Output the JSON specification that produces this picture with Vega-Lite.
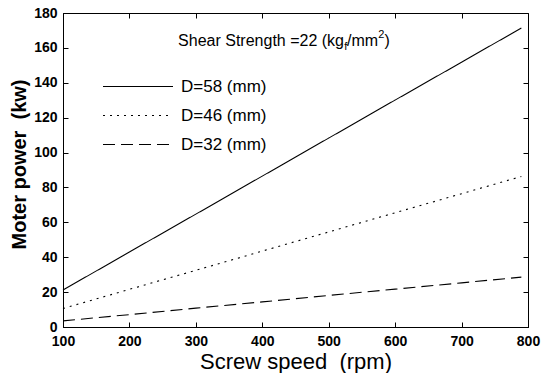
{
  "$schema": "https://vega.github.io/schema/vega-lite/v6.json",
  "width": 465,
  "height": 314,
  "autosize": {"type": "none"},
  "padding": {"left": 63, "top": 13, "right": 23, "bottom": 46},
  "background": "white",
  "config": {
    "font": "Liberation Sans",
    "view": {"stroke": "black", "strokeWidth": 1},
    "axis": {"grid": false, "domainColor": "black", "tickColor": "black", "labelColor": "black", "titleColor": "black", "font": "Liberation Sans", "labelFont": "Liberation Sans", "titleFont": "Liberation Sans"}
  },
  "datasets": {
    "lines": [
      {"speed": 100, "power": 21.2, "series": "D=58 (mm)"},
      {"speed": 200, "power": 43.0, "series": "D=58 (mm)"},
      {"speed": 300, "power": 64.7, "series": "D=58 (mm)"},
      {"speed": 400, "power": 86.5, "series": "D=58 (mm)"},
      {"speed": 500, "power": 108.3, "series": "D=58 (mm)"},
      {"speed": 600, "power": 130.1, "series": "D=58 (mm)"},
      {"speed": 700, "power": 151.8, "series": "D=58 (mm)"},
      {"speed": 790, "power": 171.4, "series": "D=58 (mm)"},
      {"speed": 100, "power": 10.6, "series": "D=46 (mm)"},
      {"speed": 200, "power": 21.6, "series": "D=46 (mm)"},
      {"speed": 300, "power": 32.5, "series": "D=46 (mm)"},
      {"speed": 400, "power": 43.5, "series": "D=46 (mm)"},
      {"speed": 500, "power": 54.5, "series": "D=46 (mm)"},
      {"speed": 600, "power": 65.5, "series": "D=46 (mm)"},
      {"speed": 700, "power": 76.4, "series": "D=46 (mm)"},
      {"speed": 790, "power": 86.3, "series": "D=46 (mm)"},
      {"speed": 100, "power": 3.5, "series": "D=32 (mm)"},
      {"speed": 200, "power": 7.1, "series": "D=32 (mm)"},
      {"speed": 300, "power": 10.8, "series": "D=32 (mm)"},
      {"speed": 400, "power": 14.4, "series": "D=32 (mm)"},
      {"speed": 500, "power": 18.1, "series": "D=32 (mm)"},
      {"speed": 600, "power": 21.7, "series": "D=32 (mm)"},
      {"speed": 700, "power": 25.3, "series": "D=32 (mm)"},
      {"speed": 790, "power": 28.6, "series": "D=32 (mm)"}
    ],
    "mainText": [{"speed": 523, "power": 161.1, "label": "Shear Strength =22 (kg"}],
    "restText": [
      {"speed": 527.5, "power": 161.1, "label": "/mm"},
      {"speed": 584, "power": 161.1, "label": ")"}
    ],
    "smallText": [
      {"speed": 523.5, "power": 158.8, "label": "f"},
      {"speed": 574.5, "power": 165.7, "label": "2"}
    ]
  },
  "resolve": {"axis": {"x": "independent", "y": "independent"}},
  "layer": [
    {
      "data": {"name": "lines"},
      "mark": {"type": "line", "color": "black", "strokeWidth": 1.1},
      "encoding": {
        "x": {
          "field": "speed", "type": "quantitative",
          "scale": {"domain": [100, 800], "nice": false, "zero": false},
          "axis": {
            "orient": "bottom", "values": [100, 200, 300, 400, 500, 600, 700, 800],
            "labelFontSize": 14, "labelFontWeight": "bold", "labelPadding": 12,
            "tickSize": -5, "labelFlush": false,
            "title": "Screw speed\u00a0 (rpm)", "titleFontSize": 22, "titleFontWeight": "normal",
            "titleBaseline": "alphabetic", "titleY": 41
          }
        },
        "y": {
          "field": "power", "type": "quantitative",
          "scale": {"domain": [0, 180], "nice": false},
          "axis": {
            "orient": "left", "values": [0, 20, 40, 60, 80, 100, 120, 140, 160, 180],
            "labelFontSize": 14, "labelFontWeight": "bold", "labelPadding": 11,
            "tickSize": -5, "labelFlush": false,
            "title": "Moter power\u00a0 (kw)", "titleFontSize": 20, "titleFontWeight": "bold",
            "titleBaseline": "alphabetic", "titleX": -38, "titleY": 151
          }
        },
        "strokeDash": {
          "field": "series", "type": "nominal",
          "scale": {"domain": ["D=58 (mm)", "D=46 (mm)", "D=32 (mm)"], "range": [[1, 0], [2, 5], [12, 6]]},
          "legend": {
            "title": null, "orient": "none", "legendX": 39, "legendY": 65,
            "symbolType": "stroke", "symbolSize": 4900, "symbolStrokeWidth": 1.1,
            "symbolStrokeColor": "black", "labelFontSize": 17, "labelColor": "black",
            "labelFont": "Liberation Sans", "labelOffset": 7, "rowPadding": 11,
            "clipHeight": 17, "padding": 0
          }
        }
      }
    },
    {
      "data": {"name": "mainText"},
      "mark": {"type": "text", "align": "right", "baseline": "alphabetic", "fontSize": 16, "color": "black"},
      "encoding": {
        "x": {"field": "speed", "type": "quantitative", "scale": {"domain": [100, 800], "nice": false, "zero": false},
          "axis": {"orient": "top", "labels": false, "title": null, "domain": false, "tickSize": -5, "values": [100, 200, 300, 400, 500, 600, 700, 800]}},
        "y": {"field": "power", "type": "quantitative", "scale": {"domain": [0, 180], "nice": false},
          "axis": {"orient": "right", "labels": false, "title": null, "domain": false, "tickSize": -5, "values": [0, 20, 40, 60, 80, 100, 120, 140, 160, 180]}},
        "text": {"field": "label"}
      }
    },
    {
      "data": {"name": "restText"},
      "mark": {"type": "text", "align": "left", "baseline": "alphabetic", "fontSize": 16, "color": "black"},
      "encoding": {
        "x": {"field": "speed", "type": "quantitative", "axis": null},
        "y": {"field": "power", "type": "quantitative", "axis": null},
        "text": {"field": "label"}
      }
    },
    {
      "data": {"name": "smallText"},
      "mark": {"type": "text", "align": "left", "baseline": "alphabetic", "fontSize": 11, "color": "black"},
      "encoding": {
        "x": {"field": "speed", "type": "quantitative", "axis": null},
        "y": {"field": "power", "type": "quantitative", "axis": null},
        "text": {"field": "label"}
      }
    }
  ]
}
